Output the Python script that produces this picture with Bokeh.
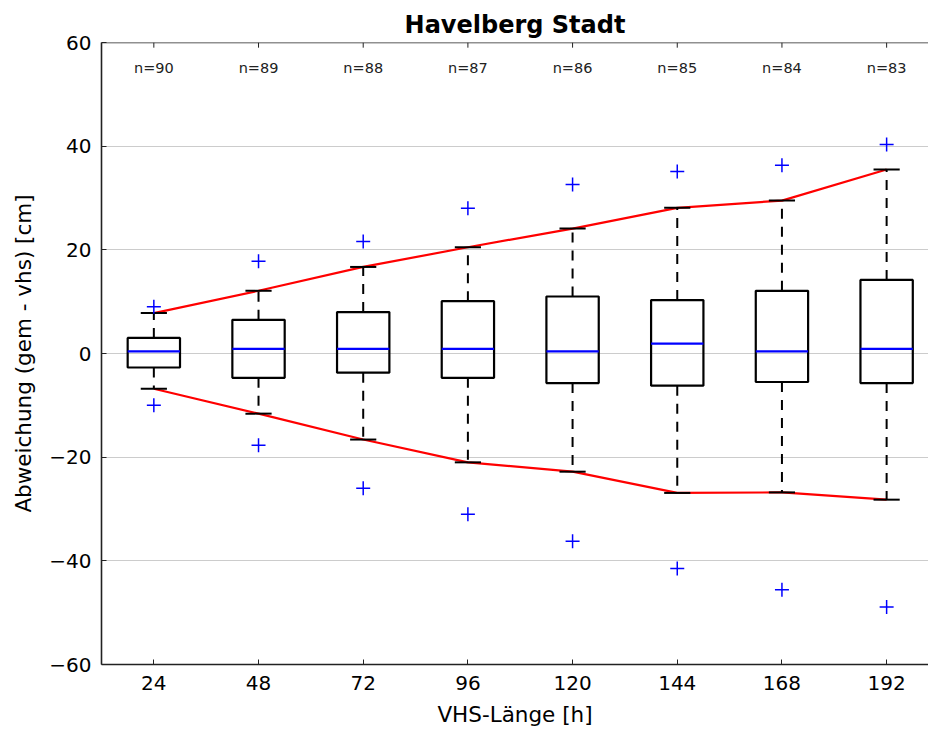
from bokeh.plotting import figure
from bokeh.models import LinearAxis, FixedTicker, Range1d, ColumnDataSource, Grid, Span
from bokeh.core.properties import value
from bokeh.embed import file_html
from bokeh.resources import INLINE

# ---- data ----
hours = [24, 48, 72, 96, 120, 144, 168, 192]
n_counts = [90, 89, 88, 87, 86, 85, 84, 83]
q1 = [-2.7, -4.7, -3.7, -4.7, -5.7, -6.2, -5.5, -5.7]
median = [0.4, 0.9, 0.9, 0.9, 0.4, 1.9, 0.4, 0.9]
q3 = [3.0, 6.5, 8.0, 10.1, 11.0, 10.3, 12.1, 14.2]
whisk_lo = [-6.8, -11.6, -16.6, -21.0, -22.8, -26.9, -26.8, -28.2]
whisk_hi = [7.8, 12.1, 16.7, 20.5, 24.1, 28.1, 29.5, 35.5]
flier_hi = [9.0, 17.8, 21.6, 28.0, 32.6, 35.1, 36.3, 40.3]
flier_lo = [-10.0, -17.7, -26.0, -31.0, -36.2, -41.5, -45.6, -48.9]
y_ticks = [-60, -40, -20, 0, 20, 40, 60]

FONT = "DejaVu Sans"
BOX_HALF = 6.0   # hours
CAP_HALF = 3.0   # hours
Y_MIN, Y_MAX = -60, 60
TOP_TICK = 1.0   # data units (~5 px)

src = ColumnDataSource(dict(
    x=hours,
    left=[h - BOX_HALF for h in hours],
    right=[h + BOX_HALF for h in hours],
    cl=[h - CAP_HALF for h in hours],
    cr=[h + CAP_HALF for h in hours],
    q1=q1, q3=q3, med=median, lo=whisk_lo, hi=whisk_hi,
    fhi=flier_hi, flo=flier_lo,
    ny=[55] * len(hours),
    ntext=["n=%d" % n for n in n_counts],
    ttop=[Y_MAX] * len(hours),
    tbot=[Y_MAX - TOP_TICK] * len(hours),
))

p = figure(width=928, height=729, output_backend="svg", toolbar_location=None,
           x_range=Range1d(12, 201.6), y_range=Range1d(Y_MIN, Y_MAX),
           x_axis_location=None, y_axis_location=None,
           min_border_left=101, min_border_right=0, min_border_top=42,
           min_border_bottom=65)
p.outline_line_color = None
p.background_fill_color = "white"
p.border_fill_color = "white"

# title
p.title.text = "Havelberg Stadt"
p.title.align = "center"
p.title.text_font = FONT
p.title.text_font_size = "24px"
p.title.text_font_style = "bold"
p.title.text_color = "black"
p.title.offset = 4
p.title.standoff = 7

minus = lambda v: ("\u2212%d" % abs(v)) if v < 0 else "%d" % v

# axes
yax = LinearAxis(ticker=FixedTicker(ticks=y_ticks),
                 major_label_overrides={t: minus(t) for t in y_ticks})
yax.axis_label = "Abweichung (gem - vhs) [cm]"
xax = LinearAxis(ticker=FixedTicker(ticks=hours))
xax.axis_label = "VHS-Länge [h]"
for ax in (yax, xax):
    ax.axis_line_color = "#222222"
    ax.axis_line_width = 1.6
    ax.major_tick_line_color = "#222222"
    ax.major_tick_in = 5
    ax.major_tick_out = 0
    ax.minor_tick_in = 0
    ax.minor_tick_out = 0
    ax.major_label_text_font = FONT
    ax.major_label_text_font_size = "20px"
    ax.major_label_text_color = "black"
    ax.major_label_text_line_height = 1.0
    ax.axis_label_text_font = FONT
    ax.axis_label_text_font_size = "21.5px"
    ax.axis_label_text_font_style = "normal"
    ax.axis_label_text_color = "black"
    ax.axis_label_text_line_height = 1.0
yax.major_label_standoff = 10
yax.axis_label_standoff = 10
xax.major_label_standoff = 11
xax.axis_label_standoff = 9
p.add_layout(yax, "left")
p.add_layout(xax, "below")

# top spine with inward ticks
p.add_layout(Span(location=Y_MAX, dimension="width", line_color="#222222",
                  line_width=1.6))
p.segment("x", "ttop", "x", "tbot", source=src, line_color="#222222",
          line_width=1)

# grid
p.xgrid.visible = False
p.ygrid.visible = False
g = Grid(dimension=1, ticker=FixedTicker(ticks=y_ticks))
g.grid_line_color = "#cccccc"
g.grid_line_width = 1.2
p.add_layout(g)

# red envelope lines through the whisker caps
p.line("x", "hi", source=src, line_color="#ff0000", line_width=2.2)
p.line("x", "lo", source=src, line_color="#ff0000", line_width=2.2)

# whiskers (dashed)
p.segment("x", "q3", "x", "hi", source=src, line_color="black", line_width=2,
          line_dash="10 8")
p.segment("x", "q1", "x", "lo", source=src, line_color="black", line_width=2,
          line_dash="10 8")
# caps
p.segment("cl", "hi", "cr", "hi", source=src, line_color="black", line_width=2)
p.segment("cl", "lo", "cr", "lo", source=src, line_color="black", line_width=2)
# boxes
p.quad(left="left", right="right", bottom="q1", top="q3", source=src,
       fill_color=None, line_color="black", line_width=2.2)
# medians
p.segment("left", "med", "right", "med", source=src, line_color="#0000ff",
          line_width=2.2)
# fliers
p.scatter("x", "fhi", source=src, marker="cross", size=14, line_color="#0000ff",
          line_width=1.5)
p.scatter("x", "flo", source=src, marker="cross", size=14, line_color="#0000ff",
          line_width=1.5)

# n= labels
p.text("x", "ny", text="ntext", source=src, text_font=value(FONT),
       text_font_size="14.5px", text_color="#222222", text_align="center",
       text_baseline="middle")

open("out.html", "w").write(file_html(p, INLINE))
